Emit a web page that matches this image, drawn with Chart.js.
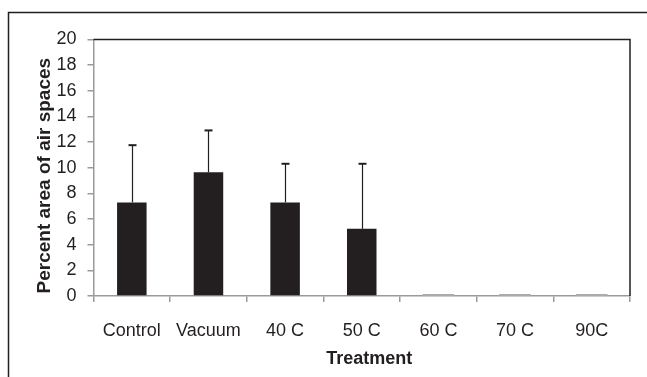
<!DOCTYPE html>
<html>
<head>
<meta charset="utf-8">
<script src="https://cdn.jsdelivr.net/npm/chart.js@4"></script>
<style>
  html, body { margin: 0; padding: 0; background: #fff; }
  #wrap { position: relative; width: 647px; height: 377px; }
</style>
</head>
<body>
<div id="wrap"><canvas id="c" width="647" height="377"></canvas></div>
<script>
const categories = ['Control', 'Vacuum', '40 C', '50 C', '60 C', '70 C', '90C'];
const means = [7.3, 9.64, 7.3, 5.24, 0, 0, 0];
const errors = [4.46, 3.27, 3.01, 5.07, 0, 0, 0];
const yTicks = [0, 2, 4, 6, 8, 10, 12, 14, 16, 18, 20];

const ink = '#231f20';
const gray = '#9a9a9a';

const decorations = {
  id: 'decorations',
  beforeDraw(chart) {
    const ctx = chart.ctx;
    ctx.save();
    ctx.fillStyle = '#fff';
    ctx.fillRect(0, 0, chart.width, chart.height);
    ctx.restore();
  },
  afterDatasetsDraw(chart) {
    const ctx = chart.ctx;
    const meta = chart.getDatasetMeta(0);
    const ys = chart.scales.y;
    ctx.save();
    meta.data.forEach((el, i) => {
      const v = means[i], e = errors[i];
      if (v === 0) {
        ctx.strokeStyle = '#aaaaaa';
        ctx.lineWidth = 2;
        ctx.beginPath();
        ctx.moveTo(el.x - el.width / 2 - 1, ys.getPixelForValue(0) - 1);
        ctx.lineTo(el.x + el.width / 2 + 1, ys.getPixelForValue(0) - 1);
        ctx.stroke();
        return;
      }
      if (e > 0) {
        const yTop = ys.getPixelForValue(v + e);
        const yBase = ys.getPixelForValue(v);
        const x = Math.round(el.x) + 0.5;
        ctx.strokeStyle = ink;
        ctx.lineWidth = 1.2;
        ctx.beginPath();
        ctx.moveTo(x, yBase);
        ctx.lineTo(x, yTop);
        ctx.stroke();
        ctx.lineWidth = 2;
        ctx.beginPath();
        ctx.moveTo(x - 4, yTop);
        ctx.lineTo(x + 4, yTop);
        ctx.stroke();
      }
    });
    ctx.restore();
  },
  afterDraw(chart) {
    const ctx = chart.ctx;
    const a = chart.chartArea;
    ctx.save();
    ctx.strokeStyle = ink;
    ctx.lineWidth = 1.5;
    ctx.beginPath();
    ctx.moveTo(a.left, a.top);
    ctx.lineTo(a.right, a.top);
    ctx.lineTo(a.right, a.bottom);
    ctx.stroke();
    // outer frame
    ctx.lineWidth = 1.5;
    ctx.beginPath();
    ctx.moveTo(8.5, chart.height);
    ctx.lineTo(8.5, 12.5);
    ctx.lineTo(chart.width, 12.5);
    ctx.stroke();
    ctx.restore();
  }
};

new Chart(document.getElementById('c'), {
  type: 'bar',
  data: {
    labels: categories,
    datasets: [{
      data: means,
      backgroundColor: ink,
      borderWidth: 0,
      barPercentage: 0.385,
      categoryPercentage: 1.0
    }]
  },
  options: {
    responsive: false,
    animation: false,
    devicePixelRatio: 1,
    layout: { padding: { left: 30, top: 39.5, right: 17, bottom: 5 } },
    plugins: { legend: { display: false }, tooltip: { enabled: false } },
    scales: {
      x: {
        grid: { display: true, drawOnChartArea: false, drawTicks: true, tickLength: 6, color: gray, lineWidth: 1.5, offset: true },
        border: { display: true, color: gray, width: 1.5 },
        ticks: { color: ink, font: { family: 'Liberation Sans, Arial, sans-serif', size: 18 }, padding: 18, maxRotation: 0, autoSkip: false },
        title: { display: true, text: '   Treatment', color: ink, font: { family: 'Liberation Sans, Arial, sans-serif', size: 18, weight: 'bold' }, padding: { top: 0, bottom: 2 } },
        afterFit(s) { s.height = 76; }
      },
      y: {
        min: 0, max: 20,
        afterBuildTicks(s) { s.ticks = yTicks.map(v => ({ value: v })); },
        grid: { display: true, drawOnChartArea: false, drawTicks: true, tickLength: 6, color: gray, lineWidth: 1.5 },
        border: { display: true, color: gray, width: 1.5 },
        ticks: { color: ink, font: { family: 'Liberation Sans, Arial, sans-serif', size: 18 }, padding: 11 },
        title: { display: true, text: 'Percent area of air spaces   ', color: ink, font: { family: 'Liberation Sans, Arial, sans-serif', size: 19, weight: 'bold' }, padding: { top: 3, bottom: 0 } },
        afterFit(s) { s.width = 63.5; }
      }
    }
  },
  plugins: [decorations]
});
</script>
</body>
</html>
